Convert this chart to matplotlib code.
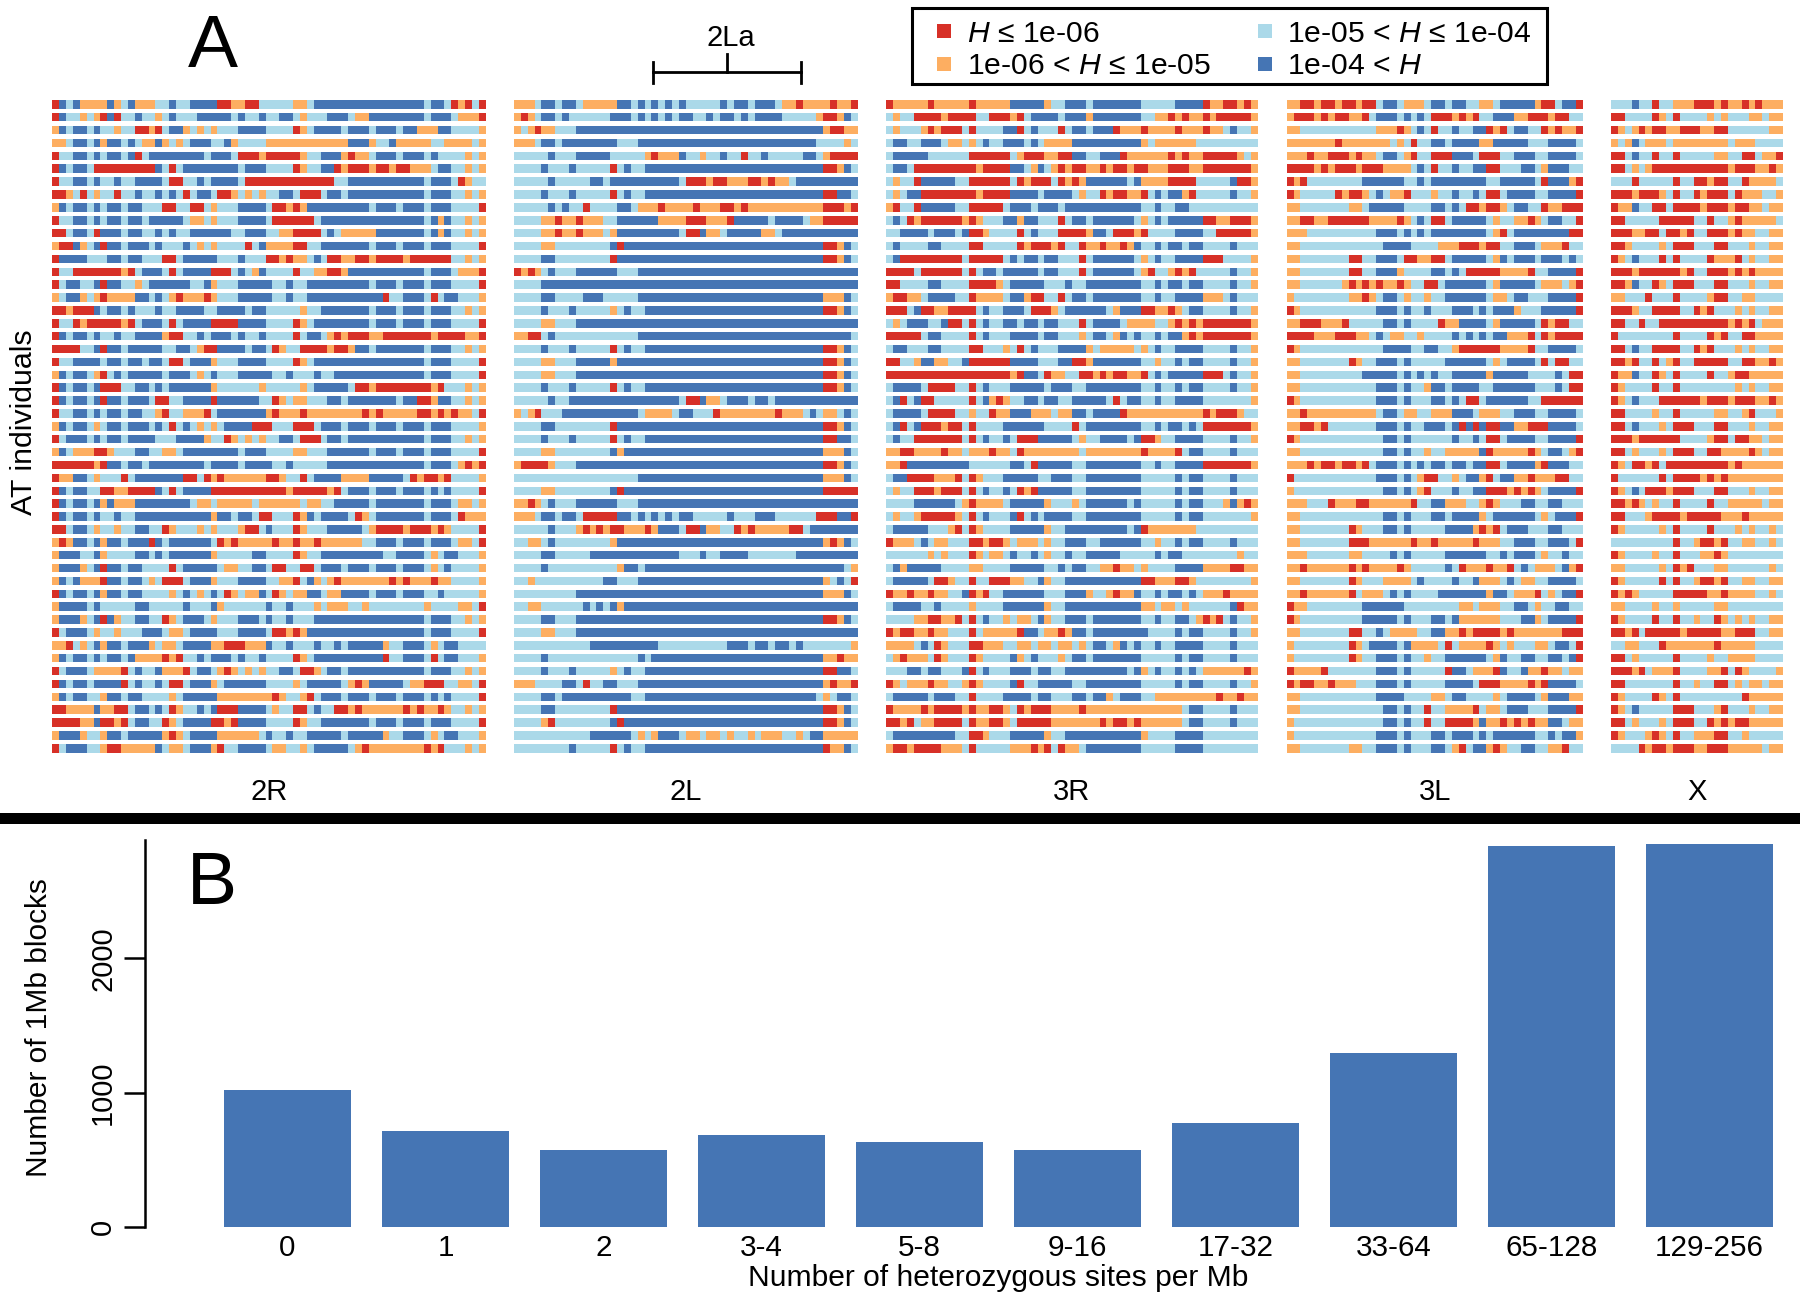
import matplotlib
matplotlib.use("Agg")
from matplotlib import pyplot as plt
from matplotlib.lines import Line2D
from matplotlib.patches import Rectangle

# run-length coded rows, top to bottom: R, O, L, B + optional repeat count
RUNS_2R = [
    "R B L B O4 B O L B O3 L2 B L2 B4 R2 O2 R2 L5 O2 L B16 L B2 L R O R L R",
    "R B L2 O L O R B R L2 B L2 O L B L3 B5 L B L2 B L2 B2 L O L3 B3 L O2 B8 L B3 L O3 R",
    "O B L B2 L B L2 O L2 R2 O R L B2 O L O L O L3 B4 L4 R O L B4 L B3 L B3 L B2 O3 B2 L4 O",
    "O2 L B2 L B O B2 L B L O2 B O L O L B3 L2 B O L4 O12 B3 O L2 B O5 L2 O4 L O",
    "R L2 B2 L B L B2 L B R L B8 L B3 L R3 O R5 O L2 B3 O R O2 L B3 L B3 L B L4 O L O",
    "R B L B2 L R9 B L R L B8 L B3 L4 R O L2 B2 R O R3 O R2 O R2 O3 L B2 L2 O L O",
    "R L2 B2 L B L2 B L2 B4 L R2 L2 B L B4 L R13 L2 B11 L B3 L R O L2",
    "R2 O L R L O L2 R L2 B L2 B L B L R L B2 L R2 O L O L O L2 B2 L R3 L B2 L B11 L B3 L2 O L O",
    "O B L B2 L B L B2 L B2 L3 R2 L2 R2 L O L3 B4 L R2 O R O B9 L B3 L B3 L B3 L4 R",
    "R L2 B2 L B L B2 L B2 L B5 L O2 L O L3 B4 L R6 L B15 L B O B L2 O L O",
    "R2 L B2 L R B3 L B2 L2 B L B L2 B6 L2 B3 L2 O2 R4 L B L O5 B7 L B O B L2 O L O",
    "O R2 B O L B R B2 L B3 L B L3 B L O L O L4 R L B O4 R2 L2 B7 L B3 L B3 L B3 L4 R",
    "R B4 L3 B2 L B2 L3 R2 L B5 L3 B L3 R2 O R O2 L B L R2 O2 R2 O R4 O R6 L2 O L O",
    "R L2 R7 O R L B3 L R L B4 R3 L B L O B L4 R L2 O2 R2 O B11 L B3 L O3 R",
    "R L B2 L2 B R B2 L2 O L B6 L2 B O L3 B5 L2 B L2 B9 L B3 L B3 L B3 L4 R",
    "O L B2 O L O R O4 B2 L B L O R O3 R O L3 B5 L2 B L2 B11 R L2 B3 L R L B2 L3 O",
    "R2 O R3 B L B2 L B L3 B L2 B4 L2 B4 L B2 L5 O L2 B7 L B3 L B3 L B3 L2 O L O",
    "R L2 R O R5 O R L B3 L R L B4 R4 B4 L4 R O L B8 L B3 L B3 L B3 L4 R",
    "R B L B2 L B L2 B L2 B4 O R2 L2 B L B3 L B L2 B L4 R L B2 L O R O R3 O2 R7 O R4 O2 R",
    "R4 L2 B R B2 L B5 L2 B2 L O R2 B4 L B2 L R O L2 R4 O R2 O B2 L B7 L B3 L2 O L O",
    "R L2 B4 L B2 L B2 L B2 L R2 L B3 O L3 B4 L4 R O L B16 L B3 L4 R",
    "O B L B2 L O R L B L B5 L B3 L O L B L3 B5 L2 B L3 B L2 B13 L B3 L4 R",
    "R B L B2 L B R3 L2 B2 L B L B6 O L6 O L5 O L B5 L R2 O R8 O R L3 O L O",
    "R B L B2 L B R B2 L B3 L R2 L2 B4 R B6 L2 R O L O2 L3 B2 L B7 L B2 R2 O B2 L2 O L O",
    "R L2 B2 L B L B2 L B2 L2 O R L2 O3 R L B7 O R O3 R O8 R O R O5 R2 O R O R O2 L R",
    "O B L B2 L O L B2 L B3 L B L R L B L O L O L B4 R3 L3 R3 L B3 L B3 L B3 L B3 L B3 L4 O",
    "R L B3 L B L B2 L B4 L3 B4 O L2 R O L O L O L2 B2 L R3 L B2 L B11 L B3 L2 O L O",
    "O B L O3 R2 O L3 B2 L2 O2 L B8 L B3 L4 O2 L3 B6 L B3 L B3 L B3 L4 R",
    "R6 O R B2 L B2 L B8 L B4 L B4 L2 B L5 B14 L B3 L O R O R",
    "R O2 B2 L O L3 R L B7 R2 L R O R O6 R2 O L2 R L B4 O4 B5 L R O R2 O R L4 O",
    "R B L B2 L2 R2 O2 R4 B L R L B4 R11 O R5 O R L B3 L B3 L B3 L B L B L4 R",
    "R B L B2 L B O B O3 B8 L O2 L O5 L O6 L O2 L2 B5 L B7 L B3 L O2 L O",
    "R B L B2 L B L2 B L2 B11 O B2 L B2 L R2 L3 R O B L B4 L R O L B7 L B3 L R O3",
    "R2 L B2 L O L2 O L2 B2 L2 R O L3 O L O L3 O R2 L B L3 R O L3 B5 L O R4 O R3 O R O L4 R",
    "O R O B2 L B O B2 L B3 R B L B6 L R O R O5 R O2 R O2 R O6 L2 B3 L B3 L B3 L O2 L R",
    "O B3 L2 B O L4 B2 L B L B6 O L5 B2 L4 R O L2 B9 L2 B4 L O L B2 L3 O",
    "O B3 O L B R B2 L B2 L4 R L B5 L O2 L2 B2 L R2 L2 R2 L B3 L B3 L B3 L B3 L O L B L4 O",
    "O B L B O3 R B2 L B2 L O L R3 L B3 O L3 B4 L2 O2 R L B O L O R O7 R O R O3 R O2 L4 O",
    "R B L B2 L B O B2 L B2 L4 O L B L O L B L R O L O2 B L R O L O2 B2 L O2 B4 L B3 L B3 L2 B L5 O",
    "O B4 L B L5 B2 L5 B L3 B O L6 B L2 B L3 O L O3 L2 O L8 O L4 O2 L R",
    "O B3 O L B R B O L2 B2 L2 R O L B3 L O L3 B3 L B L2 B L3 B16 L B3 L2 O L O",
    "R L B3 L O L2 O L3 B3 L O2 L B4 L3 B4 L R2 O R O B17 L B3 L4 R",
    "O2 R L O L B O B2 L B3 O L O2 L B4 O2 R3 O3 B L2 B L3 B L2 B L B5 O L2 B3 L O L B2 L4",
    "O B L B2 L B L B2 L B O4 R O R L2 B L B3 L B L2 B L4 R O L B10 R L2 B3 L R L B2 L3 O",
    "R L B3 L O4 R L B L2 B O3 R L B2 L O R O L O L O L2 B2 L R2 O L B2 L B11 L B3 L2 O L O",
    "R B L B2 L B4 R L B L2 B L R2 L B3 O L B6 L4 O L B5 L O R O B5 L O2 R3 L2 O2 L R",
    "O B L B2 L2 O B2 L B2 L4 O L B5 O8 R O L2 O R L B3 L B3 L B3 L B3 L B L B L4 R",
    "R2 O4 B O2 R2 L B2 L B L R O L2 B L B R3 B4 L O L2 R2 L B L2 R2 O R O6 R O R O2 R O L2 O L O",
    "R4 O2 B R2 O R L B2 L2 R O L B4 R2 O R B4 L4 R O L2 B7 L B3 L B3 L B3 L4 R",
    "O B3 O L2 O B2 L B5 O R O L B4 O6 L B L2 B L2 B5 L B5 O L2 B3 L O L B2 L3 O",
    "R L B3 L2 O R2 O5 B L O2 L B3 O R L2 B4 L O2 L2 O L B5 L O R O8 R O R L3 O L O",
]

RUNS_2L = [
    "O3 L B2 L B2 L O5 B2 L B L B L B L B L5 B L B2 L B3 L O2 R O4 R O2 R",
    "O R O L B2 L B L6 B3 L B L B L B L B2 L2 B L B2 L B L B4 L5 O R2 O B L",
    "O L O R O2 L3 B36 O R2 O2",
    "O3 L B2 L B8 L3 B26 L4 O L",
    "L5 B L3 B5 L5 O R O3 B L2 O L2 B L2 R L2 B L5 B2 L O R4",
    "L4 B L3 B L5 R L B L2 B26 R2 O B L",
    "L5 B L5 B2 L B10 L R3 O R2 O3 R2 O R O2 L B9",
    "L4 B L3 B L5 R L B L2 B26 R2 B2 L",
    "L5 B L B L2 R L4 B2 L O3 R O4 R O3 R2 O R O11 R3 O R",
    "L4 O2 R O2 R O3 L2 B6 O4 R3 O3 R B5 L B4 L O2 R5",
    "L4 O2 R O2 R O3 L O B9 L R2 B O2 L B5 O2 L B11",
    "L4 O2 L8 B R B29 R2 O B L",
    "L4 B2 L8 R B30 R2 O B L",
    "R O R O L B L3 B6 L3 B32",
    "L4 B46",
    "L4 B2 L4 B3 L5 B27 O3 B L",
    "L4 B L3 B L5 O L B L2 B26 R2 O B L",
    "L4 O2 L3 B41",
    "O2 R2 L B L12 B31 L",
    "L4 B L3 B L5 R L B L2 B26 R2 O B L",
    "L4 O2 L3 B5 O B30 R2 O B L",
    "L4 O2 L3 B36 R2 O B L",
    "L4 B L3 B L5 R L B L2 B26 R2 O B L",
    "L5 B L2 B16 L R2 B O2 L B3 L B2 L B12",
    "O L O R L3 B11 L O4 L B2 L3 R O8 R O3 L B L O2 L B L",
    "L4 B2 L8 R B30 R2 O B L",
    "L4 B L3 B L5 R L B L2 B26 R2 B2 L",
    "L4 O2 L8 B O B29 O3 B L",
    "O R4 O L3 B36 R2 O B L",
    "L18 B27 O3 B L",
    "L4 O2 L8 B R B29 R5",
    "O2 R O L B L3 B6 L3 B32",
    "O3 L B2 L B2 L R5 B2 L B L B L B L B2 L5 B L3 B3 L6 R3 B2 R",
    "L5 B L3 O R O R O R2 O3 R O B3 L R2 B O2 L2 R O R O5 R2 L B7",
    "L2 O2 L B L8 O B30 O R O B L",
    "L4 B2 L5 B13 L3 B L2 B4 L7 B9",
    "L4 B L10 O B2 L B29 L O",
    "L2 O L10 B2 L3 B27 O L B L R",
    "L9 B36 O3 B L",
    "L2 O2 L6 B L B L B O B34",
    "L4 B2 L3 B36 R2 O B L",
    "L4 O2 L3 B41",
    "L11 B10 L10 B3 L B2 L B2 L B L7 O",
    "L4 B L13 B L B25 O2 R O2",
    "L4 B L3 B L5 O L B L2 B26 R2 B2 L",
    "O3 L4 B2 L R L2 B2 L3 B27 O R O2 R",
    "L4 B2 L B10 L2 B25 L O L B2 L",
    "L4 B2 L8 R B30 R2 O B L",
    "L4 O R L8 B R B29 R2 O B L",
    "L11 B6 L O L O B3 L O2 L O2 L O L2 O L O3 L2 O L B2 O5",
    "L8 B L5 R L B L2 B26 R O2 B L",
]

RUNS_3R = [
    "R O5 R O5 R O5 B5 O L2 B3 L B7 L5 B4 R O2 R2 O R O",
    "L O L2 R4 O R4 L2 R3 O R L B4 L B3 O B7 L2 O2 R O R O2 R O R5 O",
    "L O L3 O R O R3 L R L4 B2 R L B L3 R L B2 L B3 R O3 R O4 R O3 R O2 L B L2 O",
    "L B2 L2 B3 L O2 L O L B L2 B3 L B L O4 B10 O L O6 L9",
    "L B5 L6 R6 L O R3 O2 R2 B2 L2 B3 R O6 R O R O2 R5 O L O",
    "L B2 L R9 O R4 B2 L O B L O R O R2 O2 R O R2 O R2 O3 R3 O2 R7 O",
    "L O L2 R B5 L2 R6 L R O R3 L R O R O B6 L B O4 R4 L5 B R2 O",
    "L O L B2 R8 O R4 B4 L B4 L O L2 R O R2 O2 R L B L B2 O R L5 B L2 O",
    "O R L2 R B5 L2 R5 L B3 L B3 L B11 L2 B L2 B2 L10",
    "L B L R O R6 O R O L3 B2 O B2 L3 R L B2 L B6 L O L B L B5 R2 O2 R3 O",
    "L2 B4 L B3 L B R2 O L4 R L B L3 R4 O B2 L R3 O R L4 B4 L2 R5 O",
    "L B L4 B2 L4 R2 L5 R O R3 O R L2 R O2 R O2 R O B L2 B L B2 L B2 L4 B L3",
    "L B R9 L R5 L B L B2 L B2 L3 R L B6 L O L B L2 B4 R3 L4 O",
    "R4 L R6 L R L B2 L B5 L B2 L3 R L B6 L O R L2 O R O R L5 B L2 O",
    "R2 L4 B2 L4 R4 O L B5 L3 B L2 B8 L2 B L B2 L B2 L4 B L2 O",
    "O R2 O2 L B4 L2 R O4 L B2 O R2 L2 R L B2 L B7 L2 B L2 B4 O3 L B L3",
    "R3 L B R2 O2 R4 L B L2 B3 L R3 O L B6 L O B3 R2 O2 R O L B2 L4 B L2 O",
    "L O L B3 L2 B R2 L R L B L2 B2 L B2 L B2 L3 R L B4 L O4 L2 O R O R O R7 O",
    "R5 L B2 L4 R L B L3 B4 L B2 L3 O L B2 L O B L B L2 B L B2 O R O R7 O",
    "L B2 L3 B2 L4 R2 L3 O L R L B L3 B4 O L O5 L O L B L2 B4 L4 B L2 O",
    "R2 L2 O B2 O2 L2 B R6 B4 L3 B2 R2 O B7 L2 O L2 B L B2 L4 B L2 O",
    "R18 O R B2 L R O2 L2 R2 O R O R2 O2 R L B L B5 R3 L B L2 O",
    "L B4 L R4 L2 R L B L3 B5 L B3 L2 B8 L2 B L2 B L B2 L4 B L2 O",
    "L B R L B R2 L5 R L B O R O L2 B2 L B2 L2 B5 L R L B2 L2 B L2 B4 L7 O",
    "L B4 L R4 L2 O L2 R O2 B3 O3 L O2 B2 L B4 R O11 R O R3 O L2",
    "L B R L B R3 O R2 L R L4 B6 L4 R L B8 L2 B L B2 L B L R7 O",
    "L B L2 R7 L R L B L2 B L R3 B5 L O L2 B4 L B R2 O L2 B4 L4 B L2 O",
    "O2 R2 O4 R O2 L O3 R O2 L R O8 L O8 R O4 R L B2 L4 B L3",
    "O2 R B9 L6 B2 L R B5 L2 B8 L2 B L2 B4 R7 O",
    "L B2 R4 O3 R L R O L3 B5 L2 B3 L2 B8 L5 B L B2 L4 B L3",
    "L O L2 R3 O R3 L R L B L2 B L R O R B5 L2 B8 L5 B L B2 L4 B L3",
    "L4 B6 L O R O4 L B5 O L3 O L B6 L B L5 B L B2 L3 O B O R O",
    "L O L2 O R5 O L R L B L3 B R L B L B4 L2 B8 L5 B L B2 L7 O",
    "L B5 L3 O R L R O L4 B5 O L2 B9 L B R O7 L9",
    "R O3 L B L O2 L3 R2 O R2 O L O3 L O L2 B3 L2 B6 L2 O L2 B L B2 L4 B L3",
    "L6 O L O L3 R O L O2 L B L2 B L O L2 B L2 B5 L5 B L B2 L8 O L2",
    "L B O B5 L4 O2 L4 B5 L2 B L B2 L2 O2 R O2 L O L4 B4 O4 R2 O2",
    "L B5 L R2 O L2 R L2 R3 O2 L2 B O L2 B11 R2 O3 R2 O L8 O",
    "R O2 R O2 R O2 L2 B R O R L2 B6 L3 B3 O L2 O R O2 B L2 B L B2 L B L O3 R O4",
    "L B4 L2 B L4 O L4 B6 O L2 B11 O2 L O2 L O L6 B R O2",
    "L4 O2 R2 O2 R L R L B L2 O L O2 L B O L2 B3 L B7 L2 B L2 B2 L O R O R L B L2 O",
    "R O R2 O2 R O2 L3 R L O5 R B2 L O2 R O B2 L B8 L4 B L B2 L4 B L2 O",
    "O4 L B L R O L3 R2 O3 L2 O2 L O2 L O2 L O L B2 L O B L B L2 B L2 B4 L4 B L3",
    "L O R O3 L R O L3 R O L4 B O L B L3 O L B2 L B7 L5 B L B2 L4 B L3",
    "L3 B2 L B2 L3 B R L B L3 B3 L B2 L2 B9 L B O L B L2 B L B L O6 R O",
    "R O L O3 R O2 L2 O R O L4 B R L2 B5 L2 B8 L5 B L B2 L4 B L2 O",
    "L B5 L B3 L2 R L4 B4 L B2 L3 B2 L B2 O L B3 L2 O9 R O2 R O2",
    "R O4 R O R4 O R O2 R2 O L R O R3 O4 R O14 L B2 L4 B L3",
    "R2 O R L O2 R4 L R O2 R2 O L R5 O7 R O R2 O R O6 L B2 L4 B L3",
    "L B9 L2 R2 O L3 B5 O L2 B11 O L4 B4 L8",
    "O R2 O R4 O3 L R L5 O3 R O R L R O2 L B8 L5 B4 L8",
]

RUNS_3L = [
    "O2 R2 O R2 O R2 O R2 L B2 L O3 L B2 L B2 L2 O2 L B5 O R2 L B2 R",
    "O R3 O R O R2 O2 R L B3 L B L B L R3 O R O R L2 B3 O2 R3 O R2 L2",
    "O2 L11 O3 R O L B L R L2 B L2 B2 R O R L B2 L2 R O R O2 R",
    "O7 R O7 L O L R L2 B2 L B4 O2 B5 L3 B4 L",
    "O3 R O2 R3 O R O2 L B2 L O R L2 R3 B3 L R3 L2 B3 L2 B4 L",
    "R4 O R O R3 O R3 O4 L B L R L2 B L2 B2 R2 L3 B2 L O B3 L2",
    "R O R L8 B6 L2 B L B8 L2 B5 L R B3 O R",
    "R O L5 R O R2 O L B L O2 R L3 O L2 B L2 B L R2 L B4 L2 B4 R",
    "O2 L7 O2 L B5 L4 B2 L B L R2 O R2 O L B2 L2 R O2 R3",
    "O2 R2 O2 R6 O4 R O L B L R2 L B5 L O L2 O2 R O L B2 L2 R",
    "O3 L10 B3 L B L B L B8 L O R L B8 R2",
    "O2 L12 B4 L4 O3 R3 O R2 L2 B3 L O3 R L2",
    "O2 L7 R2 L2 B3 L R2 O2 R2 L B5 L O B L B3 L B3 L B L",
    "O2 L7 R2 L2 B3 O L4 B2 L B L R5 O4 R L2 B4 R",
    "O2 L6 O R O R O R O2 R O L2 R2 L B6 L O B5 L O3 L O R",
    "O L8 O2 R O L B2 L O L2 O L2 B6 L O2 L B2 L3 B4 R",
    "R O L11 B3 L B L2 B L3 B3 L B L B3 O L3 B5 R",
    "O2 R3 O3 R L5 B2 L B L4 R O2 B4 L O B5 L R O R2 L2",
    "R4 O3 R3 O2 L B L O2 L2 O L4 B L B L B L B2 O3 R L R O R4",
    "R O L12 B4 L2 B2 L2 O R6 O4 R L2 B4 L",
    "O2 L7 R O L2 B3 L B L5 B6 L O L B4 L R L R2 L2",
    "O2 L9 B5 L B L B L B L2 B5 O B5 L4 B L R2",
    "O2 L11 B3 L B L2 O B2 L B4 L2 B6 L3 B L R2",
    "R O L11 B3 L B L3 B2 L B L R2 L B6 L2 R6",
    "O2 R O10 L B2 L O2 L2 O3 B3 L O3 L2 B3 L2 B4 L",
    "O2 R2 O R L7 B3 L B L2 B3 L B R B R B R2 B2 O2 R3 B4 L",
    "R O L12 B2 L B L6 B L2 B L R2 L B4 L2 B4 R",
    "O2 L12 B2 L B L2 O L2 O5 B R O5 R O L B2 L O R",
    "O3 R O R2 O R2 O R L B3 L B L B L B2 L B2 L B2 R2 L B4 O R B3 L2",
    "R L12 B3 L B L O R2 L2 O L B2 O R L B2 O2 R O3 R2 L2",
    "O L13 B2 L B L O R L3 B L2 B2 R3 O R O R O L B4 R",
    "O3 L3 R O3 R2 O6 R L2 B2 O3 L2 O R O L3 B2 L2 B2 L3",
    "O2 L12 B2 L B L3 B2 L B4 O L B6 L O L B3 R",
    "O2 L7 R O L3 B2 L B L5 B4 O R O R L B3 L3 B2 L3",
    "O2 L7 R3 O6 R O2 R O5 R O3 L2 B3 L2 B3 L R",
    "O3 L6 O2 L4 B L B L5 B6 L2 B L B3 L O L2 B L2",
    "O2 R O6 R O R O4 R O L5 B L R O3 R O2 R L B L O3 L B O R",
    "O2 L7 R O L3 O4 L B L4 B L2 B O3 L B L O2 L2 B4 L",
    "O2 R O6 R L O3 L B L B L4 B7 O B2 L O3 R L O L B2 R",
    "R O2 L8 B6 L8 O2 L O3 L2 B2 L O L2 B2 L2",
    "R O L9 B5 L B L3 B2 L B O6 L3 B2 O L B4 R",
    "O2 L7 R2 L2 B L O4 L2 B2 O2 R O R4 O R O7 R3",
    "O L8 R O L B4 L B O4 L R L O4 R O L O L3 O2 L B2 L R",
    "O L8 R O L2 B3 L B L2 O L2 B6 L O B L2 B2 L2 B2 L B R",
    "R O4 R L7 B3 L B L5 R B2 L O3 R B L2 B O2 R O2 L O2",
    "R O R2 O2 R O3 L3 B3 L B L5 B4 L R3 O4 R O R B4 L",
    "O2 L11 B4 L4 O2 L B2 L4 O L B4 L O B3 O2",
    "O2 L12 B2 L B L2 R L2 O4 R L O2 L B3 L3 B4 R",
    "O L13 B2 L B L2 R L2 R4 O B O2 R O R O R O2 B2 L O2",
    "O L12 B3 L B L3 B2 L B3 L B L B6 L2 B L B2 O",
    "O2 L7 O2 L2 B3 L B L3 B2 L O R L B2 O R O L2 B2 L2 O2 R L2",
]

RUNS_X = [
    "L3 B L2 R L2 O3 R3 O R O2 R O R O3",
    "R2 L4 R O L R L4 O L O L3 O2 L O2",
    "R O L O R O R2 O2 R3 O2 R2 L6 O2",
    "O L O B L O3 L O8 L O3 L4",
    "R2 L B L2 R L2 R L5 O2 L2 R2 L O2 R",
    "R2 L O L O R11 O R3 O2 R O",
    "L3 R L5 R L2 R2 O R2 L2 R O4 L",
    "R3 O R3 O L R L2 R O R3 L R O3 L2 O",
    "R O2 B L2 R2 L R4 O R3 O R2 O2 L O2",
    "R2 L5 R5 L2 R L2 O R O5 L",
    "R3 O2 R2 L R2 O R L2 R3 O R O2 L2 O2",
    "R2 O L4 O L R3 L3 R2 L3 O L2 O2",
    "R O L B L3 R L R L4 R O3 R L O L2 O2",
    "R3 O R6 O R L2 R3 O R O R O4",
    "R2 O B L2 R O L R3 L3 R2 L3 O L2 O2",
    "O2 L3 R L3 R L4 O R2 L2 O2 L4",
    "R3 O L2 R4 L2 R O R L3 O L O L2 O2",
    "R2 L2 R L2 R10 O R O R L O3",
    "R L8 R L4 R O R L2 R2 O4",
    "R2 L B L2 R4 L2 R O R L3 O L O L2 O2",
    "R2 O R L2 R L O R L2 R5 L2 R2 O2 R O",
    "R O2 B L2 R O L R L4 R L2 O R2 O5",
    "R O L4 R L2 R L8 O L O L2 O2",
    "R O L B L3 R6 O R3 O R3 O2 R O",
    "R2 L4 O L2 R L5 O2 L2 O R L3 O",
    "R2 L B L3 O L R3 L3 R2 L3 O L2 O2",
    "R3 O R6 L4 O R2 L R2 O2 L O2",
    "R2 L O L3 O L R3 L2 R2 O4 R O L O2",
    "R O L R2 O R L R9 O R O6",
    "R L6 R L R4 O R O R O8",
    "R O L B L R3 O R3 L3 R2 L3 O L2 O2",
    "R2 O R O L O L2 R L4 R L2 O5 L O2",
    "R2 L3 O R4 O R5 O3 R O5",
    "R O L5 O L R L4 R L3 O L O L2 O L",
    "L9 R L2 O R2 O R L2 O2 L2 O L",
    "R O L4 O L2 R L3 O2 R O L8",
    "O2 L5 O L R O R L3 O2 L6 O L",
    "R O L5 R L R L2 O R2 O R L2 O2 L2 O2",
    "R O R O L5 R5 O2 R O4 L2 O L",
    "O2 L4 O L2 O L5 O2 L8",
    "R O L4 R L2 R L2 O L2 R O L O L O L2 O2",
    "R2 O R L R5 O R5 O2 R3 L2 O2",
    "L2 O2 L3 R O7 R O5 L4",
    "R2 L O L5 R L4 O L2 O4 L4",
    "R3 O R L O3 R L4 O2 R L R O L4 O",
    "R2 L7 R L2 O L2 R2 L O L O2 L O2",
    "R O L4 R O L R L9 R O5",
    "R O L B L5 R3 L3 O R L3 O L2 O2",
    "R2 L O L3 O L R3 L2 R O R O R2 O5",
    "R O L3 O R O L R L2 O3 R2 L2 O L5",
    "L4 R O R2 O R3 O2 R3 O5 L O2",
]

CHROMS = ["2R", "2L", "3R", "3L", "X"]
BINS = [63, 50, 54, 43, 25]

BAR_LABELS = ["0", "1", "2", "3-4", "5-8", "9-16", "17-32", "33-64", "65-128", "129-256"]
BAR_VALUES = [1018, 717, 572, 683, 631, 572, 776, 1297, 2833, 2850]

INV_2LA = [20.2, 41.8]

COLORS = {"R": "#d73027", "O": "#fdae61", "L": "#abd9e9", "B": "#4575b4"}
LEGEND_LABELS = [r"$H$ ≤ 1e-06", r"1e-06 < $H$ ≤ 1e-05",
                 r"1e-05 < $H$ ≤ 1e-04", r"1e-04 < $H$"]

W, H = 1800, 1295

plt.rcParams["font.family"] = ["Liberation Sans", "DejaVu Sans"]
plt.rcParams["mathtext.fontset"] = "custom"
plt.rcParams["mathtext.it"] = "Liberation Sans:italic"
plt.rcParams["mathtext.rm"] = "Liberation Sans"


def px_axes(fig, x0, y0, x1, y1):
    # pixel box, y from the top of the image
    return fig.add_axes([x0 / W, 1 - y1 / H, (x1 - x0) / W, (y1 - y0) / H])


def parse_row(text):
    runs = []
    for tok in text.split():
        runs.append((tok[0], int(tok[1:]) if len(tok) > 1 else 1))
    return runs


def draw_panel(ax, rows, n_bins, name):
    for i, row in enumerate(rows):
        left = 0
        for code, n in parse_row(row):
            ax.barh(i, n, left=left, height=0.66, color=COLORS[code], linewidth=0)
            left += n
    ax.set_xlim(0, n_bins)
    ax.set_ylim(len(rows) - 0.5, -0.5)
    ax.set_yticks([])
    ax.set_xticks([])
    for s in ax.spines.values():
        s.set_visible(False)
    ax.set_xlabel(name, fontsize=21, labelpad=16.5)


def main():
    fig = plt.figure(figsize=(W / 100, H / 100), dpi=100)

    boxes = [(52.3, 485.7), (514, 857.7), (886.3, 1257.7), (1286.7, 1582.7), (1611, 1783)]
    all_rows = [RUNS_2R, RUNS_2L, RUNS_3R, RUNS_3L, RUNS_X]
    axes = []
    for (x0, x1), rows, n, name in zip(boxes, all_rows, BINS, CHROMS):
        ax = px_axes(fig, x0, 97.9, x1, 754.8)
        draw_panel(ax, rows, n, name)
        axes.append(ax)

    axes[0].set_ylabel("AT individuals", fontsize=21.9, labelpad=10)
    axes[0].yaxis.label.set_y(0.5 + 4 / 656.9)
    fig.text(213 / W, 1 - 47.5 / H, "A", fontsize=54, ha="center", va="center")

    # 2La inversion bracket over the 2L panel
    ax = axes[1]
    tr = ax.get_xaxis_transform()
    top = 1 + (97.9 - 72.5) / 656.9
    mid = (INV_2LA[0] + INV_2LA[1]) / 2
    ax.plot(INV_2LA, [top, top], color="k", lw=2, transform=tr, clip_on=False)
    for x in INV_2LA:
        ax.plot([x, x], [top - 11 / 656.9, top + 10 / 656.9], color="k", lw=2,
                transform=tr, clip_on=False)
    ax.plot([mid, mid], [top, top + 18 / 656.9], color="k", lw=2, transform=tr, clip_on=False)
    fig.text(731 / W, 1 - 38 / H, "2La", fontsize=21, ha="center", va="center")

    # legend frame drawn apart so the entries can sit low in the box
    fig.add_artist(Rectangle((912 / W, 1 - 83.5 / H), 635 / W, 76 / H, transform=fig.transFigure,
                             facecolor="w", edgecolor="k", lw=2.2))
    handles = [Line2D([], [], ls="", marker="s", ms=9.5, mew=0, color=COLORS[c]) for c in "ROLB"]
    fig.legend(handles, LEGEND_LABELS, ncol=2, loc="upper left",
               bbox_to_anchor=(927 / W, 1 - 11.6 / H), bbox_transform=fig.transFigure,
               fontsize=21.7, frameon=False,
               borderaxespad=0, borderpad=0.28, labelspacing=0.14, handlelength=0.6,
               handletextpad=0.45, columnspacing=1.47)

    # thick rule between the panels
    fig.add_artist(Rectangle((0, 1 - 824 / H), 1, 11 / H, transform=fig.transFigure,
                             color="k", lw=0))

    bx = px_axes(fig, 145, 840, 1800, 1227.3)
    bx.bar(range(len(BAR_VALUES)), BAR_VALUES, width=0.804, color=COLORS["B"], linewidth=0)
    bx.set_xlim((145 - 287.5) / 158, (1800 - 287.5) / 158)
    bx.set_ylim(0, 2880)
    for s in ["top", "right", "bottom"]:
        bx.spines[s].set_visible(False)
    bx.spines["left"].set_linewidth(1.8)
    bx.set_yticks([0, 1000, 2000])
    bx.tick_params(axis="y", length=15, width=1.8, labelsize=21, pad=5)
    plt.setp(bx.get_yticklabels(), rotation=90, va="center")
    bx.set_xticks(range(len(BAR_LABELS)))
    bx.set_xticklabels(BAR_LABELS)
    bx.tick_params(axis="x", length=0, labelsize=21.3, pad=4.5)
    bx.set_ylabel("Number of 1Mb blocks", fontsize=21.5, labelpad=26)
    bx.yaxis.label.set_y((1227.3 - 1028) / 387.3)
    fig.text(998 / W, 1 - 1277.5 / H, "Number of heterozygous sites per Mb", fontsize=21.6,
             ha="center", va="center")
    fig.text(212 / W, 1 - 884.5 / H, "B", fontsize=54, ha="center", va="center")

    fig.savefig("out.png", dpi=100)


if __name__ == "__main__":
    main()
